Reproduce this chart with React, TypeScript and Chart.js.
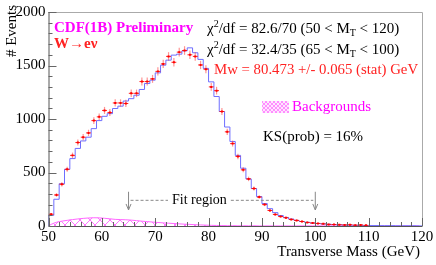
import { useEffect, useRef } from "react";
import { Chart, registerables } from "chart.js";

Chart.register(...registerables);

const FONT = '"Liberation Serif", "Times New Roman", serif';

// Bin centers (GeV), 1 GeV bins from 50 to 120
const binCenters = [
  50.5, 51.5, 52.5, 53.5, 54.5, 55.5, 56.5, 57.5, 58.5, 59.5,
  60.5, 61.5, 62.5, 63.5, 64.5, 65.5, 66.5, 67.5, 68.5, 69.5,
  70.5, 71.5, 72.5, 73.5, 74.5, 75.5, 76.5, 77.5, 78.5, 79.5,
  80.5, 81.5, 82.5, 83.5, 84.5, 85.5, 86.5, 87.5, 88.5, 89.5,
  90.5, 91.5, 92.5, 93.5, 94.5, 95.5, 96.5, 97.5, 98.5, 99.5,
  100.5, 101.5, 102.5, 103.5, 104.5, 105.5, 106.5, 107.5, 108.5, 109.5,
  110.5, 111.5, 112.5, 113.5, 114.5, 115.5, 116.5, 117.5, 118.5, 119.5,
];

// Observed events per bin
const dataCounts: (number | null)[] = [
  110, 290, 390, 530, 660, 780, 830, 870, 985, 1020,
  1080, 1060, 1150, 1150, 1145, 1240, 1240, 1350, 1350, 1375,
  1445, 1515, 1585, 1530, 1625, 1640, 1600, 1585, 1505, 1465,
  1300, 1265, 1070, 880, 770, 650, 525, 440, 350, 270,
  200, 145, 108, 89, 77, 61, 52, 42, 33, 28,
  24, 20, 15, 14, 12, 10, 12, 8, 10, 6,
  null, null, null, null, null, null, null, null, null, null,
];

// Fitted model (simulation + backgrounds)
const modelCounts = [
  100, 250, 395, 530, 630, 725, 795, 830, 910, 985,
  1025, 1050, 1098, 1120, 1168, 1190, 1222, 1276, 1332, 1363,
  1431, 1503, 1550, 1597, 1606, 1637, 1665, 1619, 1557, 1473,
  1347, 1210, 1070, 925, 790, 660, 540, 440, 350, 275,
  210, 162, 125, 98, 80, 65, 52, 42, 34, 28,
  23, 19, 16, 13, 11, 9, 8, 7, 6, 5,
  4, 4, 3, 3, 3, 2, 2, 2, 2, 1,
];

// Background estimate
const bgCounts = [
  15, 35, 45, 53, 60, 66, 71, 75, 77, 76,
  72, 67, 62, 60, 58, 55, 50, 45, 41, 37,
  33, 29, 26, 23, 20, 17, 15, 12, 10, 8,
  6, 5, 4, 3, 3, 2, 2, 2, 2, 1,
  1, 1, 1, 1, 1, 1, 1, 1, 1, 1,
  1, 1, 1, 1, 1, 1, 1, 1, 1, 1,
  1, 1, 1, 1, 1, 1, 1, 1, 1, 1,
];

const xTickLabels = [50, 60, 70, 80, 90, 100, 110, 120];
const yTickLabels = [0, 500, 1000, 1500, 2000];

// Fit region annotation (GeV)
const fitRegion = [65, 100];

function makeHatch(size: number, color: string, lw: number) {
  const c = document.createElement("canvas");
  c.width = size;
  c.height = size;
  const g = c.getContext("2d")!;
  g.strokeStyle = color;
  g.lineWidth = lw;
  g.beginPath();
  g.moveTo(0, 0);
  g.lineTo(size, size);
  g.moveTo(size, 0);
  g.lineTo(0, size);
  g.stroke();
  return g.createPattern(c, "repeat")!;
}

type Part = { t: string; size: number; dy?: number; bold?: boolean };

function rich(ctx: CanvasRenderingContext2D, x: number, y: number, parts: Part[], color: string) {
  let cx = x;
  ctx.fillStyle = color;
  ctx.textAlign = "left";
  ctx.textBaseline = "middle";
  for (const p of parts) {
    ctx.font = `${p.bold ? "bold " : ""}${p.size}px ${FONT}`;
    ctx.fillText(p.t, cx, y + (p.dy || 0));
    cx += ctx.measureText(p.t).width;
  }
  return cx;
}

export default function App() {
  const ref = useRef<HTMLCanvasElement | null>(null);

  useEffect(() => {
    const canvas = ref.current;
    if (!canvas) return;

    const dataPts = binCenters.map((x, i) => ({ x, y: dataCounts[i] }));
    const histPts = [{ x: binCenters[0] - 0.5, y: 0 }]
      .concat(binCenters.map((x, i) => ({ x: x - 0.5, y: modelCounts[i] })))
      .concat([{ x: binCenters[binCenters.length - 1] + 0.5, y: modelCounts[modelCounts.length - 1] }]);
    const bgPts = [{ x: binCenters[0] - 0.5, y: 0 }].concat(
      binCenters.map((x, i) => ({ x, y: bgCounts[i] }))
    );

    const hatch = makeHatch(10, "#ff66ff", 0.9);
    const legendHatch = makeHatch(4, "#ff77ff", 0.8);

    const errorBars = {
      id: "errorBars",
      afterDatasetDraw(chart: any, args: any) {
        if (args.index !== 1) return;
        const { ctx, scales } = chart;
        const xs = scales.x;
        const ys = scales.y;
        ctx.save();
        binCenters.forEach((c, i) => {
          const v = dataCounts[i];
          if (v == null) return;
          const e = Math.sqrt(v);
          const px = xs.getPixelForValue(c);
          const py = ys.getPixelForValue(v);
          ctx.strokeStyle = "rgba(255,60,60,0.55)";
          ctx.lineWidth = 1.2;
          ctx.beginPath();
          ctx.moveTo(px, ys.getPixelForValue(v + e));
          ctx.lineTo(px, ys.getPixelForValue(Math.max(0, v - e)));
          ctx.stroke();
          ctx.strokeStyle = "rgba(255,0,0,0.9)";
          ctx.lineWidth = 1;
          ctx.beginPath();
          ctx.moveTo(xs.getPixelForValue(c - 0.45), py);
          ctx.lineTo(xs.getPixelForValue(c + 0.45), py);
          ctx.stroke();
        });
        ctx.restore();
      },
    };

    const decor = {
      id: "decor",
      afterDraw(chart: any) {
        const { ctx, chartArea: a, scales } = chart;
        const xs = scales.x;
        const ys = scales.y;
        ctx.save();
        // frame
        ctx.lineWidth = 1;
        ctx.strokeStyle = "#aaaaaa";
        ctx.beginPath();
        ctx.moveTo(a.left, a.top + 0.5);
        ctx.lineTo(a.right + 0.5, a.top + 0.5);
        ctx.lineTo(a.right + 0.5, a.bottom);
        ctx.stroke();
        ctx.strokeStyle = "#555555";
        ctx.beginPath();
        ctx.moveTo(a.left + 0.5, a.top);
        ctx.lineTo(a.left + 0.5, a.bottom + 0.5);
        ctx.lineTo(a.right + 0.5, a.bottom + 0.5);
        ctx.stroke();
        // x ticks (inward)
        ctx.strokeStyle = "#666666";
        ctx.beginPath();
        for (let v = 50; v <= 120; v += 2) {
          const px = Math.round(xs.getPixelForValue(v)) + 0.5;
          const len = v % 10 === 0 ? 8 : 4;
          ctx.moveTo(px, a.bottom);
          ctx.lineTo(px, a.bottom - len);
        }
        // y ticks (inward)
        for (let v = 0; v <= 2000; v += 100) {
          const py = Math.round(ys.getPixelForValue(v)) + 0.5;
          const len = v % 500 === 0 ? 8 : 4;
          ctx.moveTo(a.left, py);
          ctx.lineTo(a.left + len, py);
        }
        ctx.stroke();

        // Fit region annotation
        const x1 = xs.getPixelForValue(fitRegion[0]);
        const x2 = xs.getPixelForValue(fitRegion[1]);
        const yTop = ys.getPixelForValue(320);
        const yBot = ys.getPixelForValue(150);
        const yLine = ys.getPixelForValue(240);
        ctx.strokeStyle = "#888888";
        ctx.lineWidth = 1;
        [x1, x2].forEach((px) => {
          ctx.beginPath();
          ctx.moveTo(px, yTop);
          ctx.lineTo(px, yBot);
          ctx.moveTo(px - 2.5, yBot - 6);
          ctx.lineTo(px, yBot);
          ctx.lineTo(px + 2.5, yBot - 6);
          ctx.stroke();
        });
        ctx.font = `14px ${FONT}`;
        const label = "Fit region";
        const tw = ctx.measureText(label).width;
        const tx = 172;
        ctx.setLineDash([3, 2]);
        ctx.beginPath();
        ctx.moveTo(x1 + 2, yLine);
        ctx.lineTo(tx - 4, yLine);
        ctx.moveTo(tx + tw + 4, yLine);
        ctx.lineTo(x2 - 2, yLine);
        ctx.stroke();
        ctx.setLineDash([]);
        ctx.fillStyle = "#000";
        ctx.textAlign = "left";
        ctx.textBaseline = "middle";
        ctx.fillText(label, tx, yLine);

        // Texts
        rich(ctx, 54, 28, [{ t: "CDF(1B) Preliminary", size: 15, bold: true }], "#ff00ff");
        rich(ctx, 54, 44, [{ t: "W\u2192e\u03bd", size: 15, bold: true }], "#ff2222");
        rich(ctx, 207, 29.5, [
          { t: "\u03c7", size: 15 },
          { t: "2", size: 10, dy: -5 },
          { t: "/df = 82.6/70 (50 < M", size: 15 },
          { t: "T", size: 10, dy: 4 },
          { t: " < 120)", size: 15 },
        ], "#000");
        rich(ctx, 207, 50, [
          { t: "\u03c7", size: 15 },
          { t: "2", size: 10, dy: -5 },
          { t: "/df = 32.4/35 (65 < M", size: 15 },
          { t: "T", size: 10, dy: 4 },
          { t: " < 100)", size: 15 },
        ], "#000");
        rich(ctx, 214, 70, [{ t: "Mw = 80.473 +/- 0.065 (stat) GeV", size: 14.8 }], "#ff2222");
        // Backgrounds legend
        ctx.fillStyle = "#ffe6ff";
        ctx.fillRect(262, 101, 27, 12);
        ctx.fillStyle = legendHatch;
        ctx.fillRect(262, 101, 27, 12);
        rich(ctx, 292, 107, [{ t: "Backgrounds", size: 15 }], "#ff00ff");
        rich(ctx, 263, 137, [{ t: "KS(prob) = 16%", size: 15 }], "#000");

        // Axis titles
        ctx.fillStyle = "#000";
        ctx.font = `15px ${FONT}`;
        ctx.textAlign = "right";
        ctx.textBaseline = "middle";
        ctx.fillText("Transverse Mass (GeV)", 420, 252);
        ctx.save();
        ctx.translate(12, 5);
        ctx.rotate(-Math.PI / 2);
        ctx.textAlign = "right";
        ctx.fillText("# Events", 0, 0);
        ctx.restore();
        ctx.restore();
      },
    };

    const chart = new Chart(canvas, {
      type: "scatter",
      data: {
        datasets: [
          {
            label: "Data",
            data: dataPts as any,
            showLine: false,
            pointRadius: 1.4,
            pointStyle: "rect",
            pointBackgroundColor: "#ff0000",
            pointBorderColor: "#ff0000",
            pointBorderWidth: 0,
          },
          {
            label: "Fit",
            type: "line",
            data: histPts as any,
            stepped: true,
            borderColor: "rgb(110,110,255)",
            borderWidth: 1,
            pointRadius: 0,
            fill: false,
          },
          {
            label: "Backgrounds",
            type: "line",
            data: bgPts as any,
            borderColor: "#ff66ff",
            borderWidth: 1,
            backgroundColor: hatch as any,
            fill: "origin",
            tension: 0.4,
            cubicInterpolationMode: "monotone",
            pointRadius: 0,
          },
        ],
      },
      options: {
        responsive: false,
        animation: false,
        events: [],
        layout: { padding: { top: 12, right: 14, left: 0, bottom: 0 } },
        plugins: {
          legend: { display: false },
          tooltip: { enabled: false },
          title: { display: false },
        },
        scales: {
          x: {
            type: "linear",
            min: 50,
            max: 120,
            afterFit: (s: any) => {
              s.height = 39;
            },
            afterBuildTicks: (s: any) => {
              s.ticks = xTickLabels.map((v) => ({ value: v }));
            },
            grid: { display: false, drawTicks: false },
            border: { display: false },
            ticks: {
              color: "#000",
              font: { family: FONT, size: 15 },
              padding: 2,
              maxRotation: 0,
              autoSkip: false,
              callback: (v: any) => String(v),
            },
          },
          y: {
            type: "linear",
            min: 0,
            max: 2000,
            afterFit: (s: any) => {
              s.width = 48.5;
            },
            afterBuildTicks: (s: any) => {
              s.ticks = yTickLabels.map((v) => ({ value: v }));
            },
            grid: { display: false, drawTicks: false },
            border: { display: false },
            ticks: {
              color: "#000",
              font: { family: FONT, size: 15 },
              padding: 3,
              autoSkip: false,
              callback: (v: any) => String(v),
            },
          },
        },
      },
      plugins: [errorBars, decor],
    });

    return () => chart.destroy();
  }, []);

  return (
    <div style={{ position: "absolute", left: 0, top: 0, width: 436, height: 265, background: "#fff" }}>
      <canvas ref={ref} width={436} height={265} style={{ display: "block" }} />
    </div>
  );
}
